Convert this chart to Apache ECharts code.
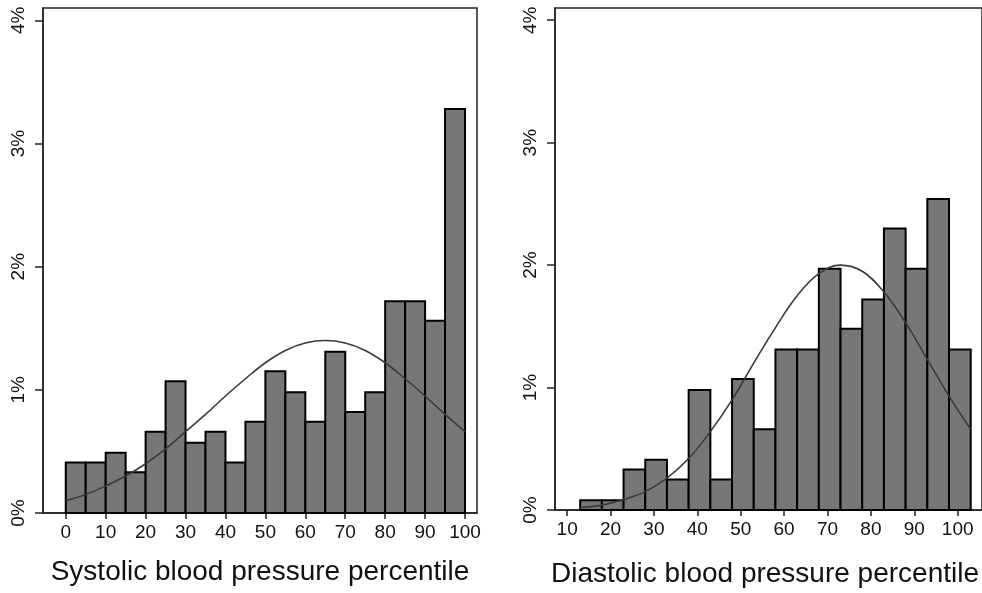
<!DOCTYPE html>
<html>
<head>
<meta charset="utf-8">
<script src="https://cdn.jsdelivr.net/npm/echarts@6/dist/echarts.min.js"></script>
<style>
    html, body { margin: 0; padding: 0; background: #fff; }
    #chart { width: 982px; height: 593px; }
</style>
</head>
<body>
<div id="chart"></div>
<script>
// 收缩压百分位 直方图 (组距 5)
const sysBinStart = [0, 5, 10, 15, 20, 25, 30, 35, 40, 45, 50, 55, 60, 65, 70, 75, 80, 85, 90, 95];
const sysValues = [0.41, 0.41, 0.49, 0.33, 0.66, 1.07, 0.57, 0.66, 0.41, 0.74, 1.15, 0.98, 0.74, 1.31, 0.82, 0.98, 1.72, 1.72, 1.56, 3.28];
// 收缩压 正态曲线
const sysCurveX = [0, 5, 10, 15, 20, 25, 30, 35, 40, 45, 50, 55, 60, 65, 70, 75, 80, 85, 90, 95, 100];
const sysCurveY = [0.10, 0.15, 0.22, 0.30, 0.40, 0.52, 0.66, 0.80, 0.95, 1.09, 1.22, 1.32, 1.38, 1.40, 1.38, 1.32, 1.22, 1.09, 0.95, 0.80, 0.66];

// 舒张压百分位 直方图
const diaBinStart = [13, 18, 23, 28, 33, 38, 43, 48, 53, 58, 63, 68, 73, 78, 83, 88, 93, 98];
const diaValues = [0.08, 0.08, 0.33, 0.41, 0.25, 0.98, 0.25, 1.07, 0.66, 1.31, 1.31, 1.97, 1.48, 1.72, 2.30, 1.97, 2.54, 1.31];
const diaCurveX = [13, 18, 23, 28, 33, 38, 43, 48, 53, 58, 63, 68, 73, 78, 83, 88, 93, 98, 103];
const diaCurveY = [0.02, 0.04, 0.085, 0.15, 0.26, 0.42, 0.64, 0.90, 1.20, 1.49, 1.75, 1.93, 2.00, 1.95, 1.78, 1.53, 1.23, 0.93, 0.66];

const binWidth = 5;
const xTicksSys = [0, 10, 20, 30, 40, 50, 60, 70, 80, 90, 100];
const xTicksDia = [10, 20, 30, 40, 50, 60, 70, 80, 90, 100];
const yTicks = [0, 1, 2, 3, 4];

const FONT = "Liberation Sans";

/**
 * 画直方图的柱子
 */
function renderBar(params, api) {
    const p0 = api.coord([api.value(0), api.value(2)]);
    const p1 = api.coord([api.value(1), 0]);
    return {
        type: "rect",
        shape: { x: p0[0], y: p0[1], width: p1[0] - p0[0], height: p1[1] - p0[1] },
        style: { fill: "#777777", stroke: "#000", lineWidth: 2 },
    };
}

function binData(starts, values) {
    return starts.map((s, i) => [s, s + binWidth, values[i]]);
}

function xAxisOf(index, min, max, ticks, name, nameGap, namePad) {
    return {
        type: "value",
        gridIndex: index,
        min,
        max,
        name,
        nameLocation: "middle",
        nameGap,
        nameTextStyle: { fontFamily: FONT, fontSize: 28, color: "#111", padding: namePad },
        axisLine: { show: true, onZero: false, lineStyle: { color: "#222", width: 1.5 } },
        axisTick: { show: true, customValues: ticks, length: 6, lineStyle: { color: "#222", width: 1.5 } },
        axisLabel: { customValues: ticks, margin: 10, fontFamily: FONT, fontSize: 19, color: "#111" },
        splitLine: { show: false },
    };
}

function yAxisOf(index) {
    return {
        type: "value",
        gridIndex: index,
        min: 0,
        max: 4.1,
        axisLine: { show: true, onZero: false, lineStyle: { color: "#222", width: 1.5 } },
        axisTick: { show: true, customValues: yTicks, length: 8, lineStyle: { color: "#222", width: 1.5 } },
        axisLabel: {
            customValues: yTicks,
            formatter: "{value}%",
            rotate: 90,
            margin: 15,
            fontFamily: FONT,
            fontSize: 19,
            color: "#111",
        },
        splitLine: { show: false },
    };
}

const chart = echarts.init(document.getElementById("chart"));

chart.setOption({
    animation: false,
    backgroundColor: "#fff",
    grid: [
        { left: 43, right: 505, top: 8, bottom: 80, show: true, borderColor: "#222", borderWidth: 1.5 },
        { left: 555, right: -7, top: 8, bottom: 80, show: true, borderColor: "#222", borderWidth: 1.5 },
    ],
    xAxis: [
        xAxisOf(0, -5.7, 103, xTicksSys, "Systolic blood pressure percentile", 45, [0, 0, 0, 0]),
        xAxisOf(1, 7.2, 105.6, xTicksDia, "Diastolic blood pressure percentile", 50, [0, 7, 0, 0]),
    ],
    yAxis: [yAxisOf(0), yAxisOf(1)],
    series: [
        {
            type: "custom",
            xAxisIndex: 0,
            yAxisIndex: 0,
            renderItem: renderBar,
            encode: { x: [0, 1], y: 2 },
            data: binData(sysBinStart, sysValues),
        },
        {
            type: "line",
            xAxisIndex: 0,
            yAxisIndex: 0,
            smooth: 0.4,
            showSymbol: false,
            lineStyle: { color: "#3a3a3a", width: 1.6 },
            data: sysCurveX.map((x, i) => [x, sysCurveY[i]]),
            z: 5,
        },
        {
            type: "custom",
            xAxisIndex: 1,
            yAxisIndex: 1,
            renderItem: renderBar,
            encode: { x: [0, 1], y: 2 },
            data: binData(diaBinStart, diaValues),
        },
        {
            type: "line",
            xAxisIndex: 1,
            yAxisIndex: 1,
            smooth: 0.4,
            showSymbol: false,
            lineStyle: { color: "#3a3a3a", width: 1.6 },
            data: diaCurveX.map((x, i) => [x, diaCurveY[i]]),
            z: 5,
        },
    ],
});
</script>
</body>
</html>
